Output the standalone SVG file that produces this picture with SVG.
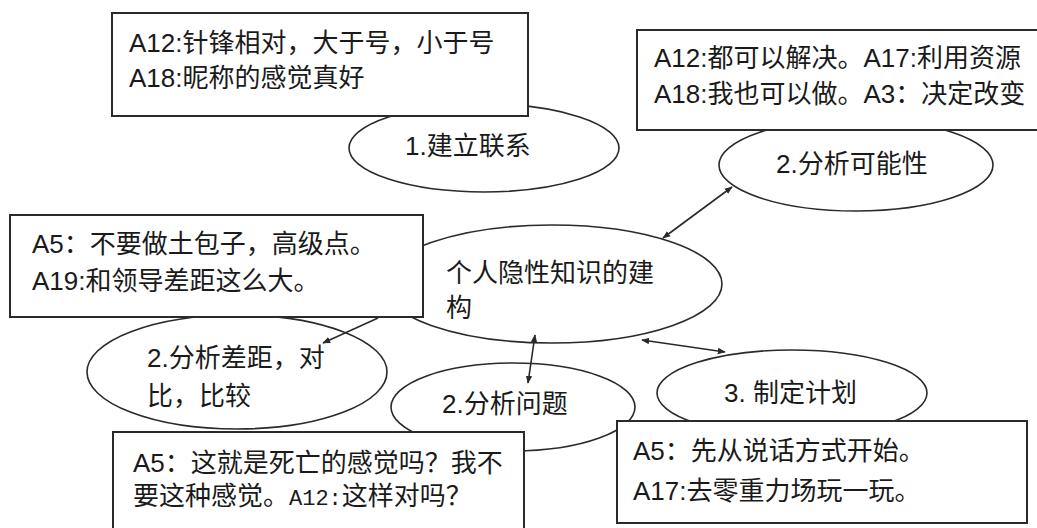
<svg xmlns="http://www.w3.org/2000/svg" width="1037" height="528" viewBox="0 0 1037 528">
<style>
.n{fill:#fff;stroke:#2a2a2a;stroke-width:1.6}
.b{fill:#fff;stroke:#2a2a2a;stroke-width:2}
.t{font-family:"Liberation Sans","Noto Sans CJK SC",sans-serif;font-size:26px;fill:#1a1a1a}
.m{font-family:"Liberation Mono","Noto Sans CJK SC",monospace;font-size:22px}
.c{stroke:#2a2a2a;stroke-width:1.6;fill:none}
</style>
<defs>
<marker id="ah" viewBox="0 0 10 10" refX="9" refY="5" markerWidth="8" markerHeight="8" orient="auto-start-reverse" markerUnits="userSpaceOnUse">
<path d="M0,1 L10,5 L0,9 Z" fill="#2a2a2a"/>
</marker>
</defs>
<rect width="1037" height="528" fill="#fff"/>
<g id="node-jianli">
<ellipse class="n" cx="484" cy="148" rx="135" ry="44"/>
<text class="t" x="405" y="155">1.建立联系</text>
</g>
<g id="node-kenengxing">
<ellipse class="n" cx="856" cy="165" rx="137" ry="46"/>
<text class="t" x="776" y="173">2.分析可能性</text>
</g>
<g id="node-center">
<ellipse class="n" cx="552" cy="284" rx="170" ry="59"/>
<text class="t" x="446" y="282">个人隐性知识的建</text>
<text class="t" x="446" y="317">构</text>
</g>
<g id="node-chaju">
<ellipse class="n" cx="237" cy="372" rx="150" ry="57"/>
<text class="t" x="147" y="367">2.分析差距，对</text>
<text class="t" x="147" y="405">比，比较</text>
</g>
<g id="node-wenti">
<ellipse class="n" cx="513" cy="407" rx="122" ry="44"/>
<text class="t" x="442" y="413">2.分析问题</text>
</g>
<g id="node-jihua">
<ellipse class="n" cx="792" cy="393" rx="135" ry="43"/>
<text class="t" x="724" y="402">3. 制定计划</text>
</g>
<g id="box-topleft">
<rect class="b" x="112" y="13" width="416" height="103"/>
<text class="t" x="129" y="52">A12:针锋相对，大于号，小于号</text>
<text class="t" x="129" y="87">A18:昵称的感觉真好</text>
</g>
<g id="box-topright">
<rect class="b" x="637" y="30" width="410" height="100"/>
<text class="t" x="654" y="67">A12:都可以解决。A17:利用资源</text>
<text class="t" x="654" y="103">A18:我也可以做。A3：决定改变</text>
</g>
<g id="box-left">
<rect class="b" x="10" y="215" width="413" height="102"/>
<text class="t" x="32" y="253">A5：不要做土包子，高级点。</text>
<text class="t" x="32" y="290">A19:和领导差距这么大。</text>
</g>
<g id="box-bottomleft">
<rect class="b" x="113" y="432" width="411" height="110"/>
<text class="t" x="133" y="472">A5：这就是死亡的感觉吗？我不</text>
<text class="t" x="133" y="505">要这种感觉。<tspan class="m">A12:</tspan>这样对吗？</text>
</g>
<g id="box-bottomright">
<rect class="b" x="617" y="421" width="410" height="102"/>
<text class="t" x="633" y="460">A5：先从说话方式开始。</text>
<text class="t" x="633" y="500">A17:去零重力场玩一玩。</text>
</g>
<g id="connectors">
<line class="c" x1="663" y1="238" x2="732" y2="187" marker-start="url(#ah)" marker-end="url(#ah)"/>
<line class="c" x1="535" y1="335" x2="528" y2="383" marker-start="url(#ah)" marker-end="url(#ah)"/>
<line class="c" x1="642" y1="340" x2="725" y2="352" marker-start="url(#ah)" marker-end="url(#ah)"/>
<line class="c" x1="378" y1="318" x2="323" y2="343" marker-end="url(#ah)"/>
</g>
</svg>
